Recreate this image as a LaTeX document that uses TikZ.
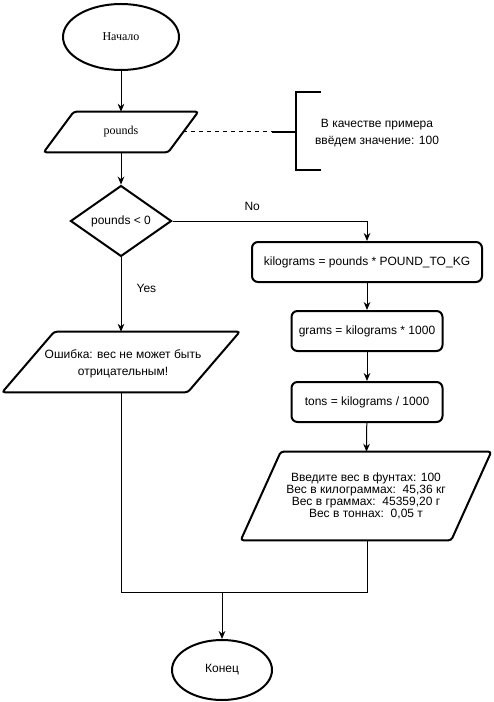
\documentclass[tikz,border=0pt]{standalone}
\usepackage{fontspec}
\setmainfont{Liberation Sans}
\newfontfamily\serifface{Liberation Serif}
\usetikzlibrary{shapes.geometric,arrows.meta}
\tikzset{
    startstop/.style={ellipse, draw, line width=1.5pt, inner sep=0pt},
    iobox/.style={rectangle, inner sep=0pt, align=center},
    calcbox/.style={rectangle, draw, line width=1.5pt, rounded corners=4.5pt, minimum height=30pt, inner sep=0pt},
    decide/.style={diamond, draw, line width=1.5pt, inner sep=0pt, minimum width=75.75pt, minimum height=46.5pt},
    flow/.style={line width=0.75pt},
}
% parallelogram round an iobox node: #1 node, #2 half slant
\newcommand{\slantframe}[2]{%
    \draw[line width=1.5pt, rounded corners=2pt] ([xshift=-#2]#1.south west) -- ([xshift=-#2]#1.south east)
        -- ([xshift=#2]#1.north east) -- ([xshift=#2]#1.north west) -- cycle;}
\begin{document}
\begin{tikzpicture}[x=0.75pt, y=-0.75pt, font=\fontsize{9}{10.5}\selectfont, >={Stealth[length=6pt,width=5pt]}]
    \useasboundingbox (0,0) rectangle (493,702);
    % Left column %
    \node[startstop, minimum width=87pt, minimum height=49.5pt] (start) at (121,37) {\serifface Начало};
    \node[iobox, minimum width=93pt, minimum height=30pt] (pounds) at (121,132) {\serifface pounds};
    \slantframe{pounds}{11.25pt}
    \node[decide] (dec) at (121,221) {pounds < 0};
    \node[iobox, minimum width=138.75pt, minimum height=45pt] (err) at (121,362) {};
    \node[align=center, font=\fontsize{9}{12.75}\selectfont] (errtext) at (123,364) {Ошибка: вес не может быть\\отрицательным!};
    \slantframe{err}{19.5pt}
    \node[startstop, minimum width=75pt, minimum height=45pt] (end) at (222,670) {Конец};

    % Right column %
    \node[calcbox, minimum width=172.5pt] (kg) at (367,262) {kilograms = pounds * POUND\_TO\_KG};
    \node[calcbox, minimum width=113.25pt] (gr) at (367,331) {grams = kilograms * 1000};
    \node[calcbox, minimum width=113.25pt] (tn) at (367,402) {tons = kilograms / 1000};
    \node[iobox, minimum width=157.5pt, minimum height=66pt, font=\fontsize{9}{9}\selectfont] (out) at (366,496) {Введите вес в фунтах: 100\\Вес в килограммах:\ \ 45,36 кг\\Вес в граммах:\ \ 45359,20 г\\Вес в тоннах:\ \ 0,05 т};
    \slantframe{out}{15pt}

    % Annotation %
    \node[align=center, font=\fontsize{9}{12.75}\selectfont] (note) at (377,133) {В качестве примера\\ввёдем значение: 100};
    \coordinate (stem) at (272,132);
    \coordinate (brk) at (296,132);
    \draw[flow, dashed] (pounds) -- (stem);
    \draw[flow, line width=1.5pt] (stem) -- (brk);
    \draw[line width=1.5pt] (321,92) -- (296,92) -- (296,170) -- (321,170);

    % Connectors %
    \draw[flow, ->] (start) -- (pounds);
    \draw[flow, ->] (pounds) -- (dec);
    \draw[flow, ->] (dec) -- node[right, pos=0.42, xshift=8pt] (yes) {Yes} (err);
    \draw[flow, ->] (dec.east) -- node[above, pos=0.41, yshift=4pt] (no) {No} (dec.east -| kg.north) -- (kg.north);
    \draw[flow, ->] (kg) -- (gr);
    \draw[flow, ->] (gr) -- (tn);
    \draw[flow, ->] (tn) -- (out);
    \coordinate (join) at (222,592);
    \draw[flow] (err) |- (join);
    \draw[flow] (out.south -| kg.south) |- (join);
    \draw[flow, ->] (join) -- (end);
\end{tikzpicture}
\end{document}
